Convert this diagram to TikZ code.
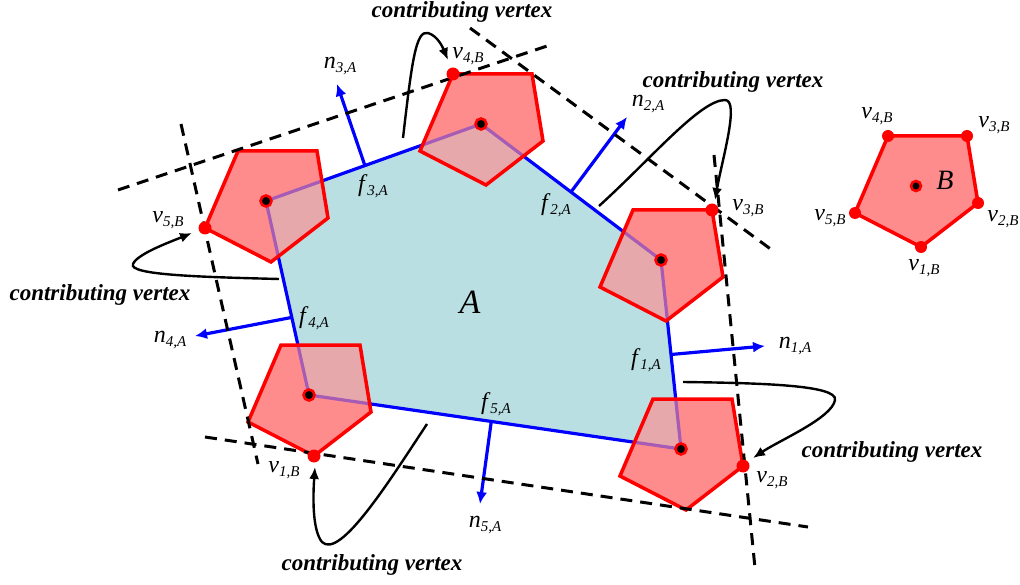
\documentclass[tikz,border=0pt]{standalone}
\usepackage{fontspec}
\setmainfont{Liberation Serif}
\usetikzlibrary{arrows.meta, calc}

\definecolor{cyanA}{RGB}{185,223,226}
\definecolor{pinkB}{RGB}{255,140,140}

\newcommand{\ilab}[2]{\textit{#1}\raisebox{-4.5pt}{\fontsize{15}{15}\selectfont\textit{#2}}}

\tikzset{
  pentB/.pic={
    \coordinate (-v1) at (5,61);
    \coordinate (-v2) at (62,17);
    \coordinate (-v3) at (51,-50);
    \coordinate (-v4) at (-28,-50);
    \coordinate (-v5) at (-61,27);
    \path[pic actions] (-v1) -- (-v2) -- (-v3) -- (-v4) -- (-v5) -- cycle;
  }
}

\begin{document}
\begin{tikzpicture}[x=1pt, y=-1pt,
  font=\fontsize{24}{26}\selectfont,
  edgeA/.style={blue, line width=3.2pt},
  normal/.style={blue, line width=3.2pt, -{Latex[length=12pt, width=11pt]}},
  under/.style={fill=pinkB},
  over/.style={fill=pinkB, fill opacity=0.65, draw=red, line width=3.5pt},
  support/.style={line width=3pt, dash pattern=on 12pt off 8pt},
  callout/.style={line width=2.4pt, -{Latex[length=12pt, width=10pt]}},
  cv/.style={font=\fontsize{23}{26}\selectfont\bfseries\itshape, inner sep=0pt},
  lbl/.style={inner sep=0pt},
  hit/.style={circle, fill=red, inner sep=0pt, minimum size=13pt},
  ctr/.style={circle, fill=black, draw=red, line width=2.6pt, inner sep=0pt, minimum size=11pt}
]
  \useasboundingbox (0,0) rectangle (1020,585);

  % vertices of A
  \coordinate (aT)  at (481,124);
  \coordinate (aR)  at (661,260);
  \coordinate (aBR) at (681,449);
  \coordinate (aBL) at (309,395);
  \coordinate (aL)  at (266,201);

  % B slid round A (opaque pass)
  \foreach \c in {aT,aR,aBR,aBL,aL}
    \pic[under] at (\c) {pentB};

  \fill[cyanA] (aT) -- (aR) -- (aBR) -- (aBL) -- (aL) -- cycle;
  \draw[edgeA] (aT) -- (aR) -- (aBR) -- (aBL) -- (aL) -- cycle;

  % face normals
  \coordinate (m1) at ($(aR)!0.5!(aBR)$);
  \coordinate (m2) at ($(aT)!0.5!(aR)$);
  \coordinate (m3) at ($(aL)!0.46!(aT)$);
  \coordinate (m4) at ($(aBL)!0.4!(aL)$);
  \coordinate (m5) at ($(aBR)!0.51!(aBL)$);
  \coordinate (t1) at (765,346);
  \coordinate (t2) at (627,117);
  \coordinate (t3) at (337,84);
  \coordinate (t4) at (195,336);
  \coordinate (t5) at (480,504);
  \foreach \i in {1,...,5}
    \draw[normal] (m\i) -- (t\i);

  % B slid round A (see-through pass)
  \pic[over] (T)  at (aT)  {pentB};
  \pic[over] (R)  at (aR)  {pentB};
  \pic[over] (BR) at (aBR) {pentB};
  \pic[over] (BL) at (aBL) {pentB};
  \pic[over] (L)  at (aL)  {pentB};

  % supporting lines
  \draw[support] (118,190) -- (550,45);
  \draw[support] (470,28) -- (776,253);
  \draw[support] (714,155) -- (755,568);
  \draw[support] (205,437) -- (808,527);
  \draw[support] (181,124) -- (258,464);

  % callouts
  \node[cv] (cvT)  at (462,12)  {contributing vertex};
  \node[cv] (cvR)  at (733,82)  {contributing vertex};
  \node[cv] (cvL)  at (100,295) {contributing vertex};
  \node[cv] (cvBL) at (372,565) {contributing vertex};
  \node[cv] (cvBR) at (892,452) {contributing vertex};

  \coordinate (sT) at (403,138);   \coordinate (eT) at (448,60);
  \coordinate (sR) at (599,206);   \coordinate (eR) at (715,200);
  \coordinate (sL) at (279,279);   \coordinate (eL) at (192,233);
  \coordinate (sBL) at (427,424);  \coordinate (eBL) at (315,467);
  \coordinate (sBR) at (683,382);  \coordinate (eBR) at (753,458);
  \draw[callout] (sT) .. controls (412,60) and (416,30) .. (428,33)
    .. controls (438,36) and (443,48) .. (eT);
  \draw[callout] (sR) .. controls (650,160) and (700,100) .. (725,100)
    .. controls (740,100) and (722,160) .. (eR);
  \draw[callout] (sL) .. controls (200,277) and (128,275) .. (133,264)
    .. controls (137,254) and (170,242) .. (eL);
  \draw[callout] (sBL) .. controls (390,480) and (340,560) .. (322,542)
    .. controls (312,530) and (313,495) .. (eBL);
  \draw[callout] (sBR) .. controls (760,383) and (838,385) .. (835,400)
    .. controls (832,418) and (780,440) .. (eBR);

  % contributing vertices and centres
  \node[hit] (hT)  at (T-v4)  {};
  \node[hit] (hR)  at (R-v3)  {};
  \node[hit] (hBR) at (BR-v2) {};
  \node[hit] (hBL) at (BL-v1) {};
  \node[hit] (hL)  at (L-v5)  {};
  \foreach \c in {aT,aR,aBR,aBL,aL}
    \node[ctr] at (\c) {};

  % labels
  \node[lbl] (vT)  at (468,56)  {\ilab{v}{4,B}};
  \node[lbl] (vR)  at (748,208) {\ilab{v}{3,B}};
  \node[lbl] (vBR) at (772,480) {\ilab{v}{2,B}};
  \node[lbl] (vBL) at (284,470) {\ilab{v}{1,B}};
  \node[lbl] (vL)  at (168,220) {\ilab{v}{5,B}};
  \node[lbl] (n1) at (795,346) {\ilab{n}{1,A}};
  \node[lbl] (n2) at (648,104) {\ilab{n}{2,A}};
  \node[lbl] (n3) at (340,66)  {\ilab{n}{3,A}};
  \node[lbl] (n4) at (170,340) {\ilab{n}{4,A}};
  \node[lbl] (n5) at (485,525) {\ilab{n}{5,A}};
  \node[lbl] (f1) at (646,360) {\ilab{f}{1,A}};
  \node[lbl] (f2) at (556,205) {\ilab{f}{2,A}};
  \node[lbl] (f3) at (373,186) {\ilab{f}{3,A}};
  \node[lbl] (f4) at (314,318) {\ilab{f}{4,A}};
  \node[lbl] (f5) at (496,404) {\ilab{f}{5,A}};
  \node[lbl, font=\fontsize{34}{36}\selectfont\itshape] (labA) at (470,302) {A};

  % B on its own
  \coordinate (b) at (916,186);
  \pic[over, fill opacity=1] (B) at (b) {pentB};
  \foreach \k in {1,...,5}
    \node[hit, minimum size=12pt] (bv\k) at (B-v\k) {};
  \node[ctr, minimum size=10pt] (bc) at (b) {};
  \node[lbl, font=\fontsize{28}{30}\selectfont\itshape] (labB) at (945,180) {B};
  \node[lbl] (lb4) at (877,116)  {\ilab{v}{4,B}};
  \node[lbl] (lb3) at (994,125)  {\ilab{v}{3,B}};
  \node[lbl] (lb2) at (1003,219) {\ilab{v}{2,B}};
  \node[lbl] (lb1) at (924,268)  {\ilab{v}{1,B}};
  \node[lbl] (lb5) at (830,218)  {\ilab{v}{5,B}};
\end{tikzpicture}
\end{document}
